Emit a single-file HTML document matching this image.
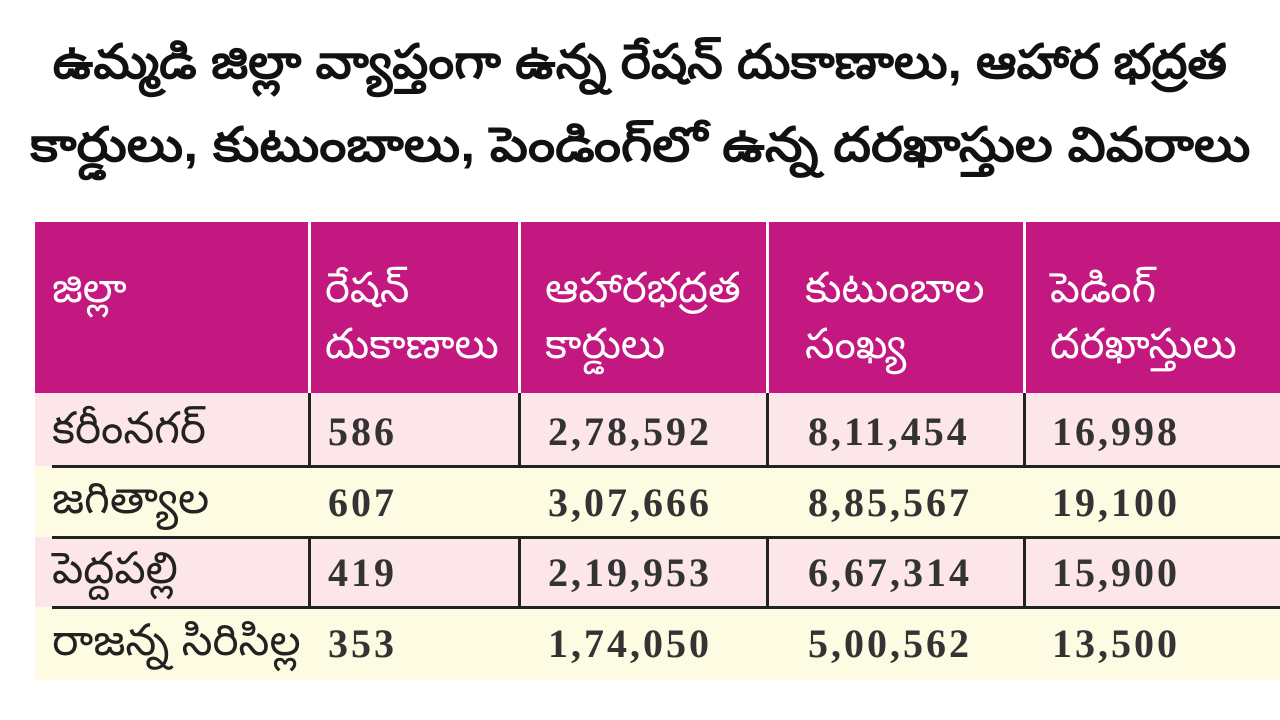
<!DOCTYPE html>
<html><head><meta charset="utf-8"><style>
body{margin:0;width:1280px;height:720px;background:#fff;position:relative;overflow:hidden;font-family:"Liberation Sans",sans-serif;}
.t{position:absolute;left:0;width:1280px;text-align:center;font-weight:bold;font-size:48px;color:#111;line-height:60px;}
.t span{display:inline-block;}
.hdr{position:absolute;left:35px;top:222px;width:1245px;height:171px;background:#c2187f;}
.vs{position:absolute;top:222px;height:171px;width:3px;background:#fff;}
.row{position:absolute;left:35px;width:1245px;}
.hl{position:absolute;left:52px;width:1228px;height:3px;background:#222;}
.vl{position:absolute;width:3px;background:#222;}
.h{position:absolute;color:#fff;font-size:42px;line-height:56px;}
.c{position:absolute;font-size:44px;color:#222;line-height:50px;}
.n{position:absolute;font-family:"Liberation Serif",serif;font-weight:bold;font-size:40px;color:#333;letter-spacing:3px;}
</style></head><body>
<div class="t" style="top:33px"><span style="transform:scaleX(1.06)">ఉమ్మడి జిల్లా వ్యాప్తంగా ఉన్న రేషన్ దుకాణాలు, ఆహార భద్రత</span></div>
<div class="t" style="top:116px"><span style="transform:scaleX(1.115)">కార్డులు, కుటుంబాలు, పెండింగ్‌లో ఉన్న దరఖాస్తుల వివరాలు</span></div>
<div class="hdr"></div>
<div class="vs" style="left:308px"></div><div class="vs" style="left:518px"></div><div class="vs" style="left:766px"></div><div class="vs" style="left:1023px"></div>
<div class="h" style="left:52px;top:260px">జిల్లా</div>
<div class="h" style="left:325px;top:260px">రేషన్<br>దుకాణాలు</div>
<div class="h" style="left:545px;top:260px">ఆహారభద్రత<br>కార్డులు</div>
<div class="h" style="left:805px;top:260px">కుటుంబాల<br>సంఖ్య</div>
<div class="h" style="left:1050px;top:260px">పెడింగ్<br>దరఖాస్తులు</div>

<div class="row" style="top:393px;height:73px;background:#fce6ea"></div>
<div class="row" style="top:466px;height:71px;background:#fdfbe2"></div>
<div class="row" style="top:537px;height:70px;background:#fce6ea"></div>
<div class="row" style="top:607px;height:73px;background:#fdfbe2"></div>
<div class="hl" style="top:465px"></div><div class="hl" style="top:536px"></div><div class="hl" style="top:606px"></div>
<div class="vl" style="left:308px;top:393px;height:72px"></div><div class="vl" style="left:518px;top:393px;height:72px"></div><div class="vl" style="left:766px;top:393px;height:72px"></div><div class="vl" style="left:1023px;top:393px;height:72px"></div>
<div class="vl" style="left:308px;top:538px;height:68px"></div><div class="vl" style="left:518px;top:538px;height:68px"></div><div class="vl" style="left:766px;top:538px;height:68px"></div><div class="vl" style="left:1023px;top:538px;height:68px"></div>

<div class="c" style="left:52px;top:404px">కరీంనగర్</div>
<div class="c" style="left:52px;top:474px">జగిత్యాల</div>
<div class="c" style="left:52px;top:544px">పెద్దపల్లి</div>
<div class="c" style="left:52px;top:616px">రాజన్న సిరిసిల్ల</div>

<div class="n" style="left:328px;top:408px">586</div>
<div class="n" style="left:328px;top:479px">607</div>
<div class="n" style="left:328px;top:549px">419</div>
<div class="n" style="left:328px;top:620px">353</div>
<div class="n" style="left:548px;top:408px">2,78,592</div>
<div class="n" style="left:548px;top:479px">3,07,666</div>
<div class="n" style="left:548px;top:549px">2,19,953</div>
<div class="n" style="left:548px;top:620px">1,74,050</div>
<div class="n" style="left:808px;top:408px">8,11,454</div>
<div class="n" style="left:808px;top:479px">8,85,567</div>
<div class="n" style="left:808px;top:549px">6,67,314</div>
<div class="n" style="left:808px;top:620px">5,00,562</div>
<div class="n" style="left:1052px;top:408px">16,998</div>
<div class="n" style="left:1052px;top:479px">19,100</div>
<div class="n" style="left:1052px;top:549px">15,900</div>
<div class="n" style="left:1052px;top:620px">13,500</div>
</body></html>
